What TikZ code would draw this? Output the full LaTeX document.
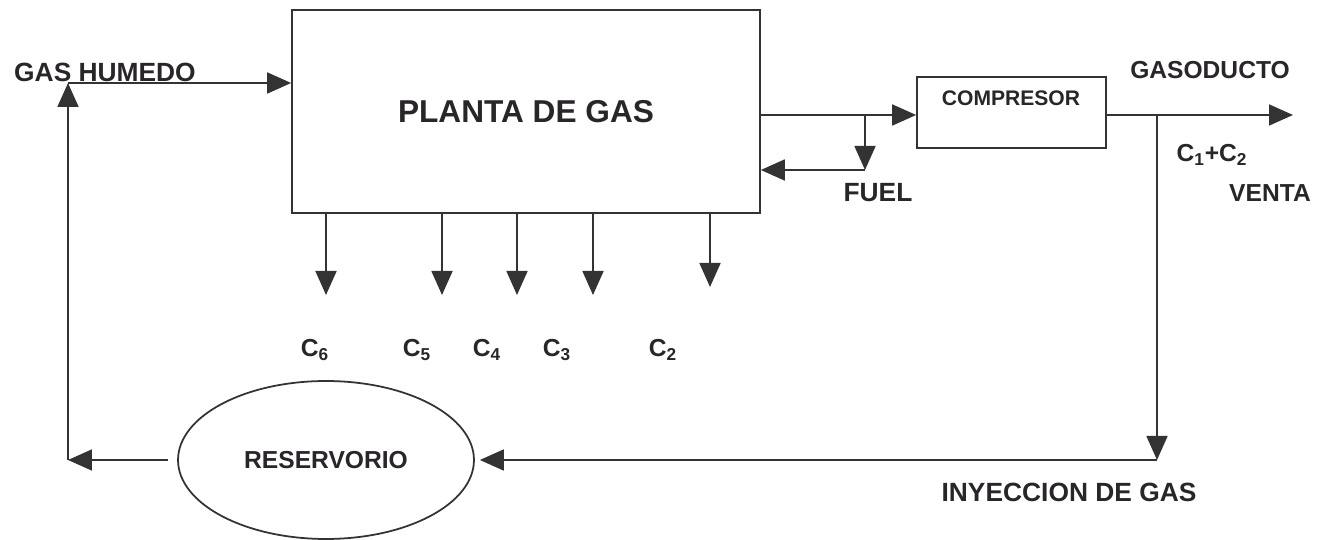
\documentclass[tikz,border=0pt]{standalone}
\usepackage{fontspec}
\setmainfont{Liberation Sans}
\usetikzlibrary{arrows.meta,shapes.geometric}
\usepackage{tkz-euclide}
\definecolor{LineClr}{rgb}{0.2,0.2,0.2}
\definecolor{TextClr}{rgb}{0.16,0.15,0.16}
\tikzset{
  flow/.style={line width=1pt,color=LineClr,-{Triangle[length=0.48cm,width=0.42cm]}},
  unit/.style={draw=LineClr,line width=1pt,fill=white,inner sep=0pt,text=TextClr},
  tag/.style={text=TextClr,inner sep=0pt,font=\bfseries\fontsize{14}{16}\selectfont}
}

\begin{document}
\begin{tikzpicture}[x=.02cm,y=.02cm]
\useasboundingbox (0,0) rectangle (1325,540);
\fill[white] (0,0) rectangle (1325,540);

\tkzDefPoints{68/80/L1,68/457/L2,865/425/F1,865/370/F2,1157/425/V1,1157/80/V2,1293/425/V3}
\tkzDefPoints{326/245/O6,442/245/O5,517/245/O4,593/245/O3,710/253/O2}

\node[unit,minimum width=9.36cm,minimum height=4.06cm,font=\bfseries\fontsize{18}{20}\selectfont] (plant) at (526,428.5) {PLANTA DE GAS};
\node[unit,minimum width=3.78cm,minimum height=1.42cm] (comp) at (1011.5,427.5) {};
\node[tag,font=\bfseries\fontsize{12}{14}\selectfont] (compname) at (1011,442) {COMPRESOR};
\node[unit,ellipse,minimum width=5.92cm,minimum height=3.16cm,font=\bfseries\fontsize{14}{16}\selectfont] (res) at (326,80) {RESERVORIO};

% gas in and products out
\draw[flow] (plant.east |- F1) -- (comp.west |- F1);
\draw[flow] (F1) -- (F2);
\draw[flow] (F2) -- (plant.east |- F2);
\draw[flow] (comp.east |- V1) -- (V3);
\draw[flow] (V1) -- (V2);
\draw[flow,shorten >=0.1cm] (V2) -- (res.east);
\draw[flow,shorten <=0.18cm] (res.west) -- (L1);
\draw[flow] (L1) -- (L2);
\draw[flow] (L2) -- (plant.west |- L2);

\draw[flow] (plant.south -| O6) -- (O6);
\draw[flow] (plant.south -| O5) -- (O5);
\draw[flow] (plant.south -| O4) -- (O4);
\draw[flow] (plant.south -| O3) -- (O3);
\draw[flow] (plant.south -| O2) -- (O2);

\node[tag,font=\bfseries\fontsize{14}{16}\selectfont] (c6) at (315,190) {C\textsubscript{6}};
\node[tag,font=\bfseries\fontsize{14}{16}\selectfont] (c5) at (417,190) {C\textsubscript{5}};
\node[tag,font=\bfseries\fontsize{14}{16}\selectfont] (c4) at (487,190) {C\textsubscript{4}};
\node[tag,font=\bfseries\fontsize{14}{16}\selectfont] (c3) at (557,190) {C\textsubscript{3}};
\node[tag,font=\bfseries\fontsize{14}{16}\selectfont] (c2) at (663,190) {C\textsubscript{2}};

\node[tag,font=\bfseries\fontsize{15}{17}\selectfont] (wet) at (105,468) {GAS HUMEDO};
\node[tag,font=\bfseries\fontsize{15}{17}\selectfont] (fuel) at (878,347) {FUEL};
\node[tag] (pipeline) at (1210,470) {GASODUCTO};
\node[tag,font=\bfseries\fontsize{14}{16}\selectfont] (light) at (1212,385) {C\textsubscript{1}+C\textsubscript{2}};
\node[tag] (sale) at (1270,347) {VENTA};
\node[tag,font=\bfseries\fontsize{15}{17}\selectfont] (inject) at (1069,48) {INYECCION DE GAS};

\end{tikzpicture}
\end{document}
